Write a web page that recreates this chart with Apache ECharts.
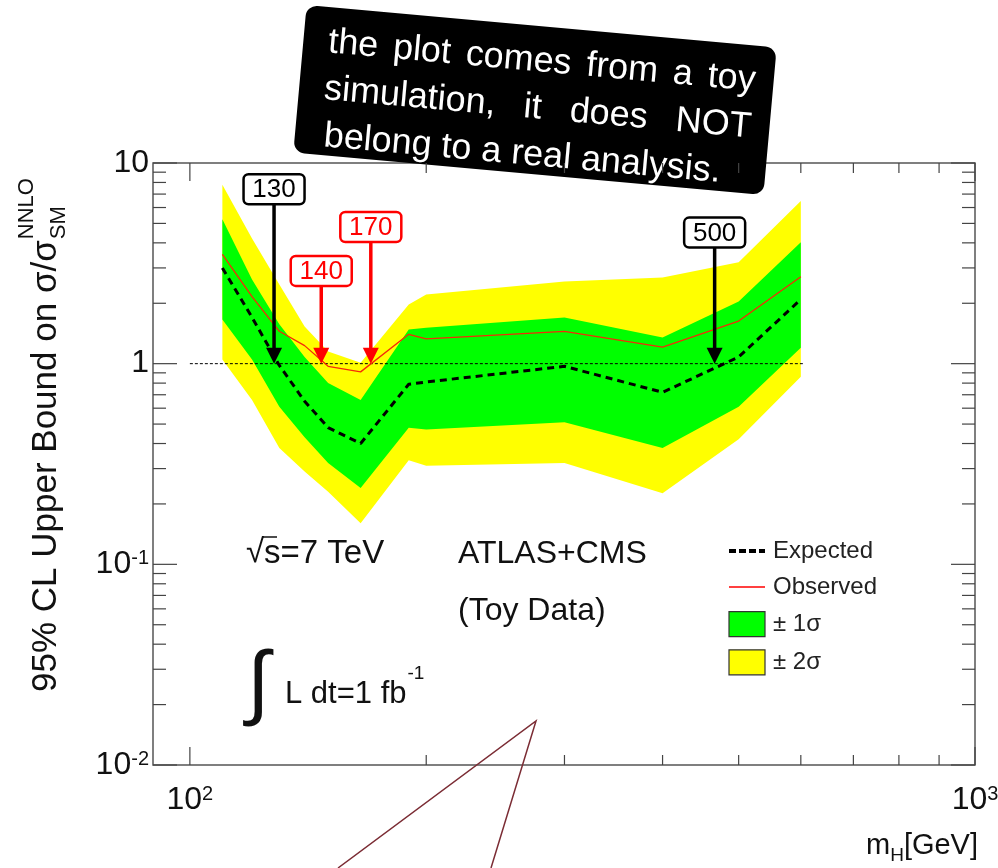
<!DOCTYPE html>
<html><head><meta charset="utf-8">
<script src="https://cdn.jsdelivr.net/npm/echarts@6/dist/echarts.min.js"></script>
<style>html,body{margin:0;padding:0;background:#fff}#c{width:998px;height:868px}</style>
</head><body><div id="c"></div>
<script>
// ---- data ----
const massPoints    = [110, 120, 130, 140, 150, 165, 190, 200, 300, 400, 500, 600];
const expectedLimit = [3.0, 1.7, 0.98, 0.65, 0.48, 0.40, 0.79, 0.81, 0.97, 0.72, 1.08, 2.09];
const observedLimit = [3.5, 2.16, 1.45, 1.23, 0.97, 0.91, 1.40, 1.33, 1.45, 1.21, 1.63, 2.71];
const band1Up       = [5.25, 2.63, 1.57, 1.08, 0.80, 0.66, 1.48, 1.51, 1.70, 1.35, 2.04, 4.03];
const band1Down     = [1.66, 1.05, 0.61, 0.43, 0.32, 0.24, 0.48, 0.47, 0.51, 0.38, 0.61, 1.20];
const band2Up       = [7.8, 4.2, 2.48, 1.53, 1.15, 1.01, 1.97, 2.21, 2.57, 2.69, 3.2, 6.46];
const band2Down     = [1.05, 0.66, 0.38, 0.29, 0.23, 0.16, 0.33, 0.31, 0.32, 0.226, 0.42, 0.86];
const unityLineX    = [100, 607];
const xMajorTicks   = [100, 1000];
const xMinorTicks   = [200, 300, 400, 500, 600, 700, 800, 900];
const yMajorTicks   = [0.01, 0.1, 1, 10];
const yMinorTicks   = [0.02,0.03,0.04,0.05,0.06,0.07,0.08,0.09,0.2,0.3,0.4,0.5,0.6,0.7,0.8,0.9,2,3,4,5,6,7,8,9];
const markerMass    = [128, 147, 170, 466];
const markerBoxY    = [7.4, 2.9, 4.8, 4.5];
const markerLabels  = ['130', '140', '170', '500'];
const markerColors  = ['#000000', '#ff0000', '#ff0000', '#000000'];
const calloutLines  = ['the plot comes from a toy', 'simulation, it does NOT', 'belong to a real analysis.'];

// ---- helpers ----
const FONT = '"Liberation Sans", Arial, Helvetica, sans-serif';
const mctx = document.createElement('canvas').getContext('2d');
function tw(t, s) { mctx.font = s + 'px ' + FONT; return mctx.measureText(t).width; }
function txt(t, x, y, size, fill, extra) {
  return Object.assign({
    type: 'text', x: x, y: y, silent: true,
    style: { text: t, font: size + 'px ' + FONT, fill: fill || '#111',
      align: 'left', textAlign: 'left', verticalAlign: 'middle', textVerticalAlign: 'middle' }
  }, extra || {});
}
const pairs = (ys) => massPoints.map((m, i) => [m, ys[i]]);

function bandRender(up, down, color) {
  return function (params, api) {
    const pts = massPoints.map((m, i) => api.coord([m, up[i]]))
      .concat(massPoints.map((m, i) => api.coord([m, down[i]])).reverse());
    return { type: 'polygon', shape: { points: pts }, style: { fill: color } };
  };
}

// callout box
const calloutChildren = [{ type: 'rect', shape: { x: -236, y: -74, width: 472, height: 148, r: 11 }, style: { fill: '#000' } }];
(function () {
  const fs = 36, L = -211, R = 218, bases = [-27, 20, 67];
  calloutLines.forEach((ln, k) => {
    const yy = bases[k] - 0.33 * fs;
    if (k < 2) {
      const words = ln.split(' ');
      const ws = words.map(w => tw(w, fs));
      const gap = (R - L - ws.reduce((a, b) => a + b, 0)) / (words.length - 1);
      let x = L;
      words.forEach((w, i) => { calloutChildren.push(txt(w, x, yy, fs, '#fff')); x += ws[i] + gap; });
    } else {
      calloutChildren.push(txt(ln, L + 4, yy, fs, '#fff'));
    }
  });
})();

// y-axis title (rotated)
const yMain = '95% CL Upper Bound on σ/σ';
const yMainW = tw(yMain, 35);
const yTitle = {
  type: 'group', x: 46, y: 692, rotation: Math.PI / 2,
  children: [
    txt(yMain, 0, 0, 35, '#111'),
    txt('NNLO', yMainW + 1, -19, 22, '#111'),
    txt('SM', yMainW + 1, 13, 22, '#111')
  ]
};

const lumiW = tw('L dt=1 fb', 31);
const mW = tw('m', 29), hW = tw('H', 19);

const chart = echarts.init(document.getElementById('c'), null, { renderer: 'canvas' });
const labelRich = {
  b: { fontSize: 32, fontFamily: FONT, color: '#111' },
  s: { fontSize: 20, fontFamily: FONT, color: '#111', verticalAlign: 'top' }
};
const hiddenSymbol = { color: 'rgba(0,0,0,0)', borderWidth: 0, opacity: 0 };
chart.setOption({
  animation: false,
  backgroundColor: '#fff',
  grid: { left: 153, right: 23, top: 163, bottom: 103, show: true, borderColor: '#555', borderWidth: 1.5,
          backgroundColor: 'transparent', containLabel: false, outerBoundsMode: 'none' },
  xAxis: {
    type: 'log', logBase: 10, min: 89.75, max: 1000, splitNumber: 1,
    axisLine: { show: false }, axisTick: { show: false }, splitLine: { show: false }, minorTick: { show: false },
    axisLabel: {
      margin: 19, showMinLabel: true, showMaxLabel: true,
      formatter: function (v) { const l = Math.log10(v), e = Math.round(l); if (Math.abs(l - e) > 1e-6) return ''; return '{b|10}{s|' + e + '}'; },
      rich: labelRich
    }
  },
  yAxis: {
    type: 'log', logBase: 10, min: 0.01, max: 10, splitNumber: 3,
    axisLine: { show: false }, axisTick: { show: false }, splitLine: { show: false }, minorTick: { show: false },
    axisLabel: {
      margin: 4, showMinLabel: true, showMaxLabel: true,
      formatter: function (v) { const l = Math.log10(v), e = Math.round(l); if (Math.abs(l - e) > 1e-6) return '';
        if (e === 1) return '{b|10}'; if (e === 0) return '{b|1}'; return '{b|10}{s|' + e + '}'; },
      rich: labelRich
    }
  },
  legend: {
    left: 727, top: 539, orient: 'vertical', padding: 0, itemWidth: 36, itemHeight: 25, itemGap: 12,
    textStyle: { fontSize: 24, fontFamily: FONT, color: '#222', padding: [0, 0, 0, 3] },
    selectedMode: false,
    data: [
      { name: 'Expected', itemStyle: hiddenSymbol, lineStyle: { color: '#000', width: 4, type: [7, 3] } },
      { name: 'Observed', itemStyle: hiddenSymbol, lineStyle: { color: '#ff0000', width: 1.3 } },
      { name: '± 1σ', icon: 'rect', itemStyle: { color: '#00ff00', borderColor: '#333', borderWidth: 1.2 } },
      { name: '± 2σ', icon: 'rect', itemStyle: { color: '#ffff00', borderColor: '#333', borderWidth: 1.2 } }
    ]
  },
  series: [
    { name: '± 2σ', type: 'custom', silent: true, z: 1, itemStyle: { color: '#ffff00' },
      data: [[massPoints[0], band2Down[0]]], renderItem: bandRender(band2Up, band2Down, '#ffff00') },
    { name: '± 1σ', type: 'custom', silent: true, z: 2, itemStyle: { color: '#00ff00' },
      data: [[massPoints[0], band1Down[0]]], renderItem: bandRender(band1Up, band1Down, '#00ff00') },
    { name: 'unity', type: 'line', silent: true, z: 3, symbol: 'none',
      data: unityLineX.map(x => [x, 1]), lineStyle: { color: '#000', width: 1, type: [3, 2] } },
    { name: 'Expected', type: 'line', silent: true, z: 4, symbol: 'none', data: pairs(expectedLimit),
      itemStyle: { color: '#000' }, lineStyle: { color: '#000', width: 3, type: [7, 5] } },
    { name: 'Observed', type: 'line', silent: true, z: 5, symbol: 'none', data: pairs(observedLimit),
      itemStyle: { color: '#ff0000' }, lineStyle: { color: '#f52a08', width: 1.3 } },
    { type: 'custom', silent: true, z: 6, data: markerMass.map((m, i) => [m, markerBoxY[i]]),
      renderItem: function (params, api) {
        const i = params.dataIndex, col = markerColors[i];
        const b = api.coord([api.value(0), api.value(1)]);
        const t = api.coord([api.value(0), 1]);
        const w = 61, h = 30;
        return { type: 'group', children: [
          { type: 'line', shape: { x1: t[0], y1: b[1] + h / 2, x2: t[0], y2: t[1] - 14 }, style: { stroke: col, lineWidth: 3.5 } },
          { type: 'polygon', shape: { points: [[t[0] - 8, t[1] - 16], [t[0] + 8, t[1] - 16], [t[0], t[1]]] }, style: { fill: col } },
          { type: 'rect', shape: { x: b[0] - w / 2, y: b[1] - h / 2, width: w, height: h, r: 5 }, style: { fill: '#fff', stroke: col, lineWidth: 2.5 } },
          { type: 'text', x: b[0], y: b[1] + 1, style: { text: markerLabels[i], font: '26px ' + FONT, fill: col, align: 'center', verticalAlign: 'middle' } }
        ] };
      } },
    { type: 'custom', silent: true, z: 7,
      data: xMajorTicks.map(v => [v, 1, 1]).concat(xMinorTicks.map(v => [v, 1, 0])),
      renderItem: function (params, api) {
        const cs = params.coordSys, p = api.coord([api.value(0), 1]), len = api.value(2) ? 18 : 10;
        const yb = cs.y + cs.height, yt = cs.y;
        return { type: 'group', children: [
          { type: 'line', shape: { x1: p[0], y1: yb, x2: p[0], y2: yb - len }, style: { stroke: '#444', lineWidth: 1.2 } },
          { type: 'line', shape: { x1: p[0], y1: yt, x2: p[0], y2: yt + len }, style: { stroke: '#444', lineWidth: 1.2 } }
        ] };
      } },
    { type: 'custom', silent: true, z: 7,
      data: yMajorTicks.map(v => [100, v, 1]).concat(yMinorTicks.map(v => [100, v, 0])),
      renderItem: function (params, api) {
        const cs = params.coordSys, p = api.coord([100, api.value(1)]), len = api.value(2) ? 24 : 13;
        const xl = cs.x, xr = cs.x + cs.width;
        return { type: 'group', children: [
          { type: 'line', shape: { x1: xl, y1: p[1], x2: xl + len, y2: p[1] }, style: { stroke: '#444', lineWidth: 1.2 } },
          { type: 'line', shape: { x1: xr, y1: p[1], x2: xr - len, y2: p[1] }, style: { stroke: '#444', lineWidth: 1.2 } }
        ] };
      } }
  ],
  graphic: [
    yTitle,
    txt('m', 866, 846, 29, '#111'),
    txt('H', 866 + mW, 856, 19, '#111'),
    txt('[GeV]', 866 + mW + hW, 846, 29, '#111'),
    txt('√', 246, 553, 33, '#111'),
    { type: 'line', silent: true, shape: { x1: 263, y1: 537, x2: 277, y2: 537 }, style: { stroke: '#111', lineWidth: 1.5 } },
    txt('s=7 TeV', 264, 554, 33, '#111'),
    txt('ATLAS+CMS', 458, 554, 32, '#111'),
    txt('(Toy Data)', 458, 611, 32, '#111'),
    txt('∫', 247, 686, 82, '#111'),
    txt('L dt=1 fb', 285, 694, 31, '#111'),
    txt('-1', 285 + lumiW + 1, 674, 19, '#111'),
    { type: 'group', x: 535, y: 100, rotation: -0.09, children: calloutChildren },
    { type: 'polyline', silent: true, shape: { points: [[338, 868], [536, 721], [491, 868]] }, style: { stroke: '#7b2c34', lineWidth: 1.5, fill: null } }
  ]
});
</script></body></html>
